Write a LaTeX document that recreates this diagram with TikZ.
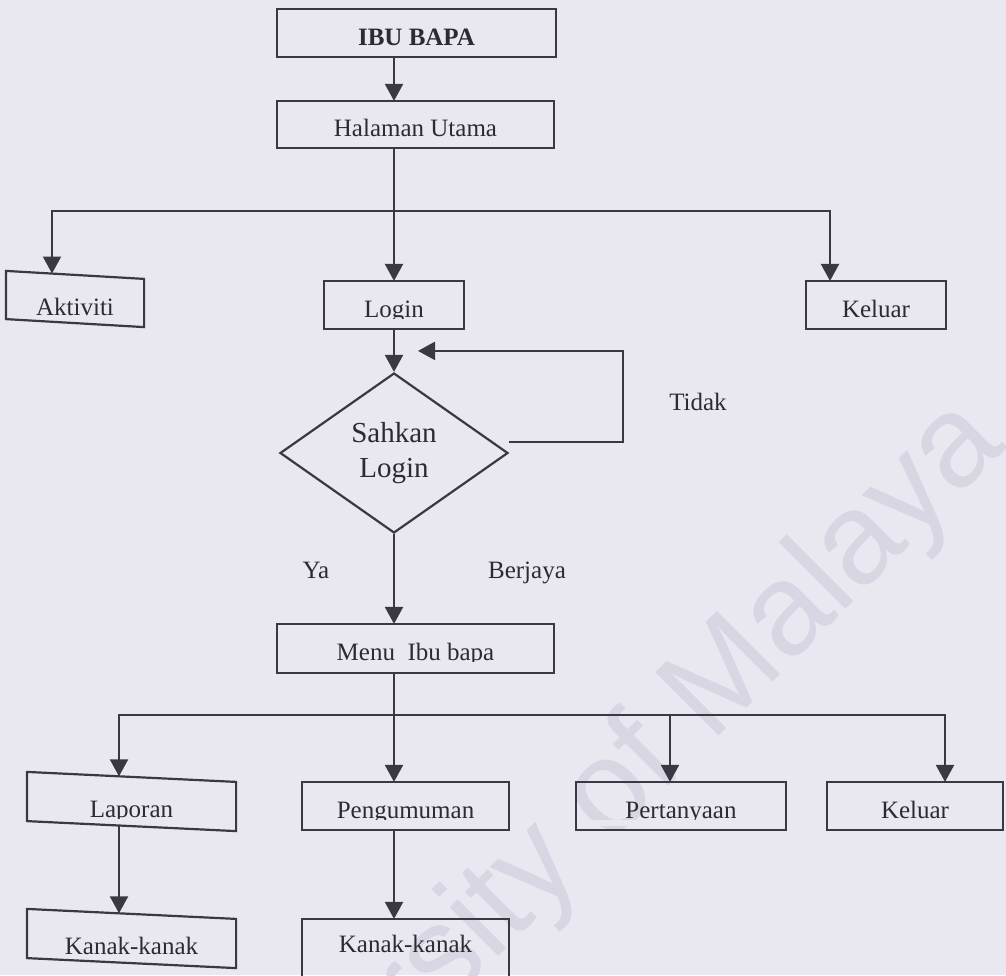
\documentclass[tikz,border=0pt]{standalone}
\usepackage{fontspec}
\setmainfont{Liberation Serif}
\newfontfamily\wmfont{Liberation Sans}
\usetikzlibrary{arrows.meta,shapes.geometric}
\definecolor{paper}{RGB}{233,232,240}
\definecolor{ink}{RGB}{58,56,64}
\definecolor{txt}{RGB}{45,43,50}
\definecolor{wmark}{RGB}{216,214,226}

% frame of a box whose top and bottom edges run slightly downhill
\newcommand\skewframe[2]{%
  \draw ([yshift=#2]#1.north west) -- ([yshift=-#2]#1.north east)
     -- ([yshift=-#2]#1.south east) -- ([yshift=#2]#1.south west) -- cycle;}
% descenders of a label are hidden just under its baseline
\newcommand\trimdesc[2][6pt]{%
  \fill[paper] ([xshift=#1,yshift=-1.8pt]#2.base west)
     rectangle ([xshift=-#1,yshift=-8pt]#2.base east);}

\begin{document}
\begin{tikzpicture}[x=1pt,y=-1pt,line width=2.2pt,draw=ink,
  box/.style={rectangle,inner sep=0pt,minimum height=46pt,
    text height=24pt,text depth=0pt,text=txt,font=\fontsize{25}{30}\selectfont},
  skew/.style={box,minimum height=47pt,text height=32pt},
  arr/.style={draw=ink,-{Triangle[width=18pt,length=17pt]}},
  lbl/.style={inner sep=0pt,anchor=base,text=txt,font=\fontsize{25}{30}\selectfont},
  decision/.style={diamond,draw=ink,inner sep=0pt,minimum width=228pt,
    minimum height=160pt,align=center,text=txt,font=\fontsize{29}{35}\selectfont}]

\useasboundingbox (0,0) rectangle (1006,975);
\fill[paper] (0,0) rectangle (1006,975);
\clip (0,0) rectangle (1006,975);

% watermark
\node[rotate=45,anchor=base east,inner sep=0pt,text=wmark,
  font=\wmfont\fontsize{130}{130}\selectfont] (wm) at (1009,446) {University of Malaya};

% boxes
\node[box,minimum width=277pt] (ibu) at (416.5,33) {\bfseries IBU BAPA};
\node[box,minimum width=275pt,minimum height=45pt] (hal) at (415.5,124.5) {Halaman Utama};
\node[skew,minimum width=136pt,minimum height=46pt] (akt) at (75,299) {Aktiviti};
\node[box,minimum width=138pt] (login) at (394,305) {Login};
\node[box,minimum width=138pt] (kel1) at (876,305) {Keluar};
\node[decision] (chk) at (394,453) {Sahkan\\Login};
\node[box,minimum width=275pt,minimum height=47pt] (menu) at (415.5,648.5) {Menu\ \ Ibu bapa};
\node[skew,minimum width=207pt] (lap) at (131.5,801.5) {Laporan};
\node[box,minimum width=205pt] (pen) at (405.5,806) {Pengumuman};
\node[box,minimum width=208pt] (tan) at (681,806) {Pertanyaan};
\node[box,minimum width=174pt] (kel2) at (915,806) {Keluar};
\node[skew,minimum width=207pt] (kan1) at (131.5,938.5) {Kanak-kanak};
\node[box,minimum width=205pt,minimum height=62pt,text height=2pt] (kan2) at (405.5,951) {Kanak-kanak};

\trimdesc{login}
\trimdesc{menu}
\trimdesc[40pt]{lap}
\trimdesc{pen}
\trimdesc{tan}

\foreach \n in {ibu,hal,login,kel1,menu,pen,tan,kel2,kan2}
  \draw (\n.north west) rectangle (\n.south east);
\skewframe{akt}{4pt}
\skewframe{lap}{5pt}
\skewframe{kan1}{5pt}

% labels
\node[lbl] (tidak) at (698,410) {Tidak};
\node[lbl] (ya) at (316,578) {Ya};
\node[lbl] (berjaya) at (527,578) {Berjaya};

% connectors
\coordinate (spine) at (394,0);
\coordinate (bus1) at (394,211);
\coordinate (bus2) at (394,715);
\draw[arr] (spine |- ibu.south) -- (spine |- hal.north);
\draw[arr] (spine |- hal.south) -- (login.north);
\draw[arr] (bus1) -| ([xshift=-23pt,yshift=1.4pt]akt.north);
\draw[arr] (bus1) -| ([xshift=-46pt]kel1.north);
\draw[arr] (login.south) -- (chk.north);

\coordinate (loopstart) at ([yshift=11pt]chk.east);
\coordinate (loopturn) at (623,0);
\coordinate (loopend) at ([xshift=24pt,yshift=21pt]chk.north);
\draw[arr] (loopstart) -- (loopstart -| loopturn) |- (loopend);

\draw[arr] (chk.south) -- (spine |- menu.north);
\draw[arr] (spine |- menu.south) -- (spine |- pen.north);
\draw[arr] (bus2) -| ([xshift=-12.5pt,yshift=0.6pt]lap.north);
\draw[arr] (bus2) -| ([xshift=-11pt]tan.north);
\draw[arr] (bus2) -| ([xshift=30pt]kel2.north);
\draw[arr] ([xshift=-12.5pt,yshift=0.6pt]lap.south) -- ([xshift=-12.5pt,yshift=0.6pt]kan1.north);
\draw[arr] (spine |- pen.south) -- (spine |- kan2.north);
\end{tikzpicture}
\end{document}
